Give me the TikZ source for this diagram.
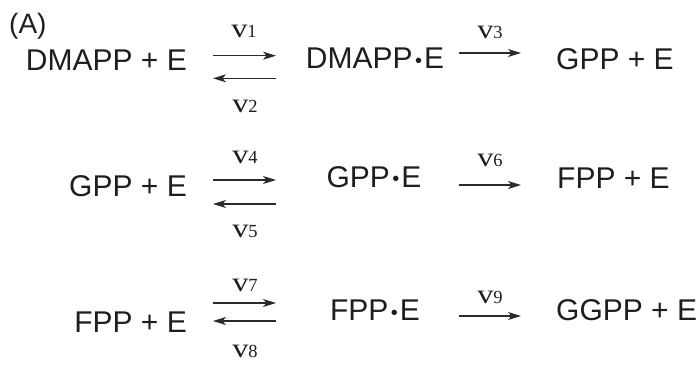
\documentclass[tikz,border=0pt]{standalone}
\usepackage{fontspec}
\usepackage{graphicx}
\setmainfont{Liberation Sans}
\newfontfamily\labfont{Liberation Serif}
\usetikzlibrary{arrows.meta}
\definecolor{txt}{HTML}{1E1E1E}
\definecolor{arr}{HTML}{2A2A2A}
\newcommand\ratelab[1]{{\fontsize{27}{27}\selectfont\scalebox{1.2}[1]{v}}{\fontsize{18.5}{18.5}\selectfont #1}}
\newcommand\cdotE{\kern2.5pt\raisebox{1.5pt}{\fontsize{20}{20}\selectfont •}\kern2pt}
\begin{document}
\begin{tikzpicture}[x=1pt,y=-1pt,
  chem/.style={inner sep=0pt, font=\fontsize{30}{30}\selectfont, text=txt},
  rate/.style={inner sep=0pt, font=\labfont, text=txt},
  rx/.style={draw=arr, line width=1.1pt, -{Stealth[length=13pt,width=8pt,inset=3.5pt]}},
]
\useasboundingbox (0,0) rectangle (700,364);

% panel label
\node[inner sep=0pt, anchor=base west, font=\fontsize{28}{28}\selectfont, text=txt] (lab) at (9,33) {(A)};

% row 1
\node[chem, anchor=east] (r1a) at (187,60) {DMAPP + E};
\node[chem] (r1b) at (375,58.5) {DMAPP\cdotE E};
\node[chem, anchor=west] (r1c) at (556,59.5) {GPP + E};
\coordinate (f1s) at (213,55.7); \coordinate (f1e) at (276,55.7);
\coordinate (b1s) at (276,78.3); \coordinate (b1e) at (213,78.3);
\coordinate (p1s) at (459,53);   \coordinate (p1e) at (521,53);
\draw[rx] (f1s) -- (f1e);
\draw[rx] (b1s) -- (b1e);
\draw[rx] (p1s) -- (p1e);
\node[rate] (v1) at (244,31) {\ratelab{1}};
\node[rate] (v2) at (245,106) {\ratelab{2}};
\node[rate] (v3) at (490,32) {\ratelab{3}};

% row 2
\node[chem, anchor=east] (r2a) at (187,186) {GPP + E};
\node[chem] (r2b) at (374,177) {GPP\cdotE E};
\node[chem, anchor=west] (r2c) at (557,178) {FPP + E};
\coordinate (f2s) at (213,180); \coordinate (f2e) at (276,180);
\coordinate (b2s) at (276,204); \coordinate (b2e) at (213,204);
\coordinate (p2s) at (459,185); \coordinate (p2e) at (521,185);
\draw[rx] (f2s) -- (f2e);
\draw[rx] (b2s) -- (b2e);
\draw[rx] (p2s) -- (p2e);
\node[rate] (v4) at (245,157) {\ratelab{4}};
\node[rate] (v5) at (245,231) {\ratelab{5}};
\node[rate] (v6) at (490,160) {\ratelab{6}};

% row 3
\node[chem, anchor=east] (r3a) at (187,322) {FPP + E};
\node[chem] (r3b) at (375,310.5) {FPP\cdotE E};
\node[chem, anchor=west] (r3c) at (556,310.5) {GGPP + E};
\coordinate (f3s) at (213,303); \coordinate (f3e) at (276,303);
\coordinate (b3s) at (276,321); \coordinate (b3e) at (213,321);
\coordinate (p3s) at (459,316); \coordinate (p3e) at (521,316);
\draw[rx] (f3s) -- (f3e);
\draw[rx] (b3s) -- (b3e);
\draw[rx] (p3s) -- (p3e);
\node[rate] (v7) at (245,285) {\ratelab{7}};
\node[rate] (v8) at (245,351.5) {\ratelab{8}};
\node[rate] (v9) at (490,297) {\ratelab{9}};
\end{tikzpicture}
\end{document}
